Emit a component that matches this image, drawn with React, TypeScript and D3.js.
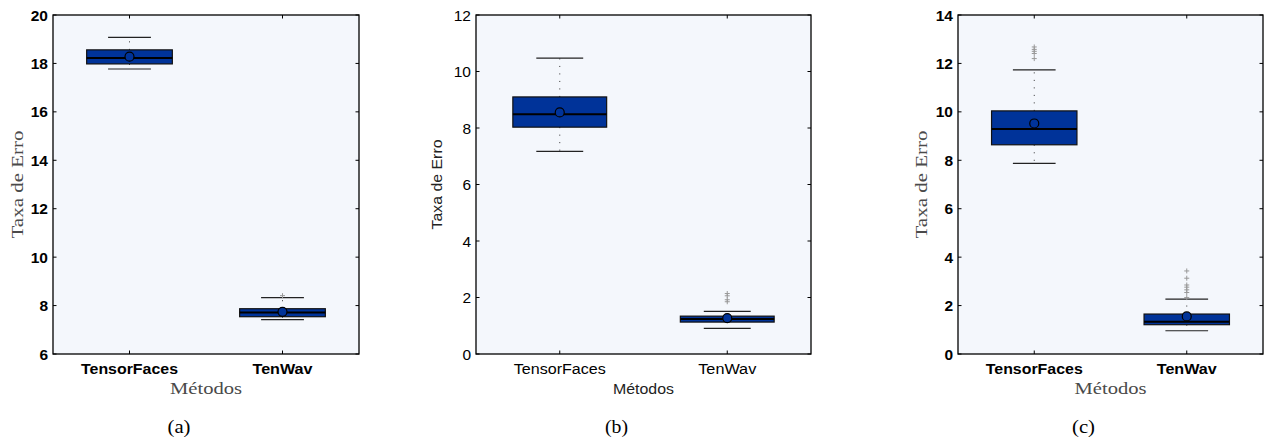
import React from "react";
import * as d3 from "d3";

const METHODS = ["TensorFaces", "TenWav"];
const PANEL_CAPTIONS = ["(a)", "(b)", "(c)"];
const Y_LABEL = "Taxa de Erro";
const X_LABEL = "Métodos";

const Y_TICKS_A = [6, 8, 10, 12, 14, 16, 18, 20];
const Y_TICKS_B = [0, 2, 4, 6, 8, 10, 12];
const Y_TICKS_C = [0, 2, 4, 6, 8, 10, 12, 14];

const Q1_A = [17.98, 7.54];
const MEDIAN_A = [18.22, 7.71];
const Q3_A = [18.56, 7.87];
const LOWER_A = [17.77, 7.42];
const UPPER_A = [19.08, 8.33];
const MEAN_A = [18.28, 7.74];
const OUTLIERS_A = [[], [8.41]];

const Q1_B = [8.03, 1.13];
const MEDIAN_B = [8.49, 1.24];
const Q3_B = [9.1, 1.34];
const LOWER_B = [7.17, 0.91];
const UPPER_B = [10.47, 1.51];
const MEAN_B = [8.55, 1.27];
const OUTLIERS_B = [[], [2.14, 2.06, 1.92, 1.85]];

const Q1_C = [8.64, 1.21];
const MEDIAN_C = [9.29, 1.33];
const Q3_C = [10.04, 1.65];
const LOWER_C = [7.87, 0.96];
const UPPER_C = [11.73, 2.27];
const MEAN_C = [9.52, 1.55];
const OUTLIERS_C = [
  [12.68, 12.58, 12.5, 12.41, 12.2],
  [3.43, 3.13, 2.85, 2.76, 2.65, 2.54, 2.33],
];

type Stats = {
  q1: number[];
  med: number[];
  q3: number[];
  lo: number[];
  hi: number[];
  mean: number[];
  out: number[][];
};

const BOX_FILL = "#003399";
const BG = "#f4f7fc";
const SANS = "'Liberation Sans', Arial, Helvetica, sans-serif";
const SERIF = "'Liberation Serif', 'Times New Roman', serif";

type PanelProps = {
  left: number;
  right: number;
  top: number;
  bottom: number;
  ticks: number[];
  stats: Stats;
  styleBold: boolean;
  caption: string;
  yLabelX: number;
};

function Panel({ left, right, top, bottom, ticks, stats, styleBold, caption, yLabelX }: PanelProps) {
  const y = d3.scaleLinear().domain([ticks[0], ticks[ticks.length - 1]]).range([bottom, top]);
  const x = d3.scalePoint<string>().domain(METHODS).range([left, right]).padding(0.5);
  const step = x.step();
  const boxHalf = step * 0.28;
  const capHalf = step * 0.14;
  const cx = (left + right) / 2;
  const cy = (top + bottom) / 2;
  const tickFont = styleBold ? 700 : 400;
  const labelFont = styleBold ? SERIF : SANS;
  const labelColor = styleBold ? "#4a4a4a" : "#222";
  const tickLen = 3.5;

  return (
    <g>
      <rect x={left} y={top} width={right - left} height={bottom - top} fill={BG} />
      {METHODS.map((m, i) => {
        const xc = x(m) as number;
        const q1 = y(stats.q1[i]);
        const q3 = y(stats.q3[i]);
        return (
          <g key={m}>
            <line x1={xc} x2={xc} y1={q3} y2={y(stats.hi[i])} stroke="#333" strokeWidth={1} strokeDasharray="1,6.5" />
            <line x1={xc} x2={xc} y1={q1} y2={y(stats.lo[i])} stroke="#333" strokeWidth={1} strokeDasharray="1,6.5" />
            <line x1={xc - capHalf} x2={xc + capHalf} y1={y(stats.hi[i])} y2={y(stats.hi[i])} stroke="#222" strokeWidth={1.2} />
            <line x1={xc - capHalf} x2={xc + capHalf} y1={y(stats.lo[i])} y2={y(stats.lo[i])} stroke="#222" strokeWidth={1.2} />
            {stats.out[i].map((v, j) => (
              <path
                key={j}
                d={`M${xc - 2.5},${y(v)}H${xc + 2.5}M${xc},${y(v) - 2.5}V${y(v) + 2.5}`}
                stroke="#999"
                strokeWidth={1}
                fill="none"
              />
            ))}
            <rect x={xc - boxHalf} y={q3} width={boxHalf * 2} height={q1 - q3} fill={BOX_FILL} stroke="#111" strokeWidth={1.2} />
            <line x1={xc - boxHalf} x2={xc + boxHalf} y1={y(stats.med[i])} y2={y(stats.med[i])} stroke="#000" strokeWidth={2} />
            <circle cx={xc} cy={y(stats.mean[i])} r={4.5} fill={BOX_FILL} stroke="#000" strokeWidth={1.2} />
          </g>
        );
      })}
      {ticks.map((t) => (
        <g key={t}>
          <line x1={left} x2={left + tickLen} y1={y(t)} y2={y(t)} stroke="#000" strokeWidth={1} />
          <line x1={right} x2={right - tickLen} y1={y(t)} y2={y(t)} stroke="#000" strokeWidth={1} />
          <text
            x={left - 5}
            y={y(t)}
            textAnchor="end"
            dominantBaseline="central"
            fontFamily={SANS}
            fontWeight={tickFont}
            fontSize={15.5}
            fill="#000"
          >
            {t}
          </text>
        </g>
      ))}
      {METHODS.map((m) => {
        const xc = x(m) as number;
        const len = styleBold ? (m === "TensorFaces" ? 97 : 60) : m === "TensorFaces" ? 92 : 58;
        return (
          <g key={m}>
            <line x1={xc} x2={xc} y1={bottom} y2={bottom - tickLen} stroke="#000" strokeWidth={1} />
            <line x1={xc} x2={xc} y1={top} y2={top + tickLen} stroke="#000" strokeWidth={1} />
            <text
              x={xc}
              y={374}
              textAnchor="middle"
              fontFamily={SANS}
              fontWeight={tickFont}
              fontSize={15.5}
              textLength={len}
              lengthAdjust="spacingAndGlyphs"
              fill="#000"
            >
              {m}
            </text>
          </g>
        );
      })}
      <rect x={left} y={top} width={right - left} height={bottom - top} fill="none" stroke="#000" strokeWidth={1.3} />
      <text
        transform={`translate(${yLabelX},${cy}) rotate(-90)`}
        textAnchor="middle"
        dominantBaseline="central"
        fontFamily={labelFont}
        fontSize={styleBold ? 17 : 15}
        textLength={styleBold ? 108 : 90}
        lengthAdjust="spacingAndGlyphs"
        fill={labelColor}
      >
        {Y_LABEL}
      </text>
      <text
        x={cx}
        y={394}
        textAnchor="middle"
        fontFamily={labelFont}
        fontSize={styleBold ? 17 : 15}
        textLength={styleBold ? 72 : 61}
        lengthAdjust="spacingAndGlyphs"
        fill={labelColor}
      >
        {X_LABEL}
      </text>
      <text
        x={cx - 27}
        y={433}
        textAnchor="middle"
        fontFamily={SERIF}
        fontSize={18}
        textLength={23}
        lengthAdjust="spacingAndGlyphs"
        fill="#000"
      >
        {caption}
      </text>
    </g>
  );
}

export default function App() {
  const statsA: Stats = { q1: Q1_A, med: MEDIAN_A, q3: Q3_A, lo: LOWER_A, hi: UPPER_A, mean: MEAN_A, out: OUTLIERS_A };
  const statsB: Stats = { q1: Q1_B, med: MEDIAN_B, q3: Q3_B, lo: LOWER_B, hi: UPPER_B, mean: MEAN_B, out: OUTLIERS_B };
  const statsC: Stats = { q1: Q1_C, med: MEDIAN_C, q3: Q3_C, lo: LOWER_C, hi: UPPER_C, mean: MEAN_C, out: OUTLIERS_C };
  return (
    <svg
      width={1268}
      height={442}
      style={{ position: "absolute", left: 0, top: 0, background: "#fff" }}
    >
      <rect x={0} y={0} width={1268} height={442} fill="#fff" />
      <Panel left={53} right={359} top={15} bottom={354} ticks={Y_TICKS_A} stats={statsA} styleBold={true} caption={PANEL_CAPTIONS[0]} yLabelX={17.5} />
      <Panel left={476} right={811} top={15} bottom={354} ticks={Y_TICKS_B} stats={statsB} styleBold={false} caption={PANEL_CAPTIONS[1]} yLabelX={436.5} />
      <Panel left={958} right={1263} top={15} bottom={354} ticks={Y_TICKS_C} stats={statsC} styleBold={true} caption={PANEL_CAPTIONS[2]} yLabelX={921.5} />
    </svg>
  );
}
